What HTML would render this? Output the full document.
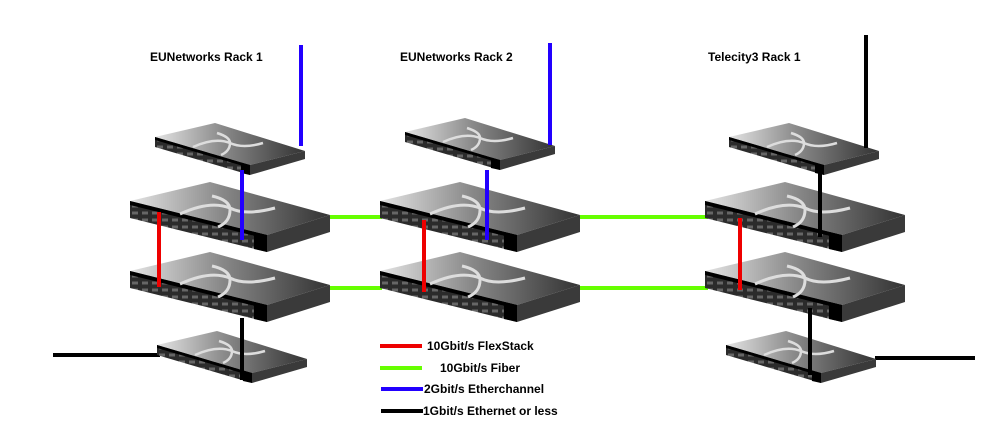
<!DOCTYPE html>
<html><head><style>body{margin:0;background:#fff}svg{display:block}text{font-family:"Liberation Sans",sans-serif;font-weight:bold;font-size:12px;fill:#000}</style></head><body>
<svg width="986" height="426" viewBox="0 0 986 426" xmlns="http://www.w3.org/2000/svg">
<defs>
<linearGradient id="tg" x1="0" y1="0" x2="1" y2="0"><stop offset="0" stop-color="#e4e4e4"/><stop offset="0.45" stop-color="#8a8a8a"/><stop offset="1" stop-color="#333"/></linearGradient>
<pattern id="ports" width="10" height="7" patternUnits="userSpaceOnUse"><rect width="10" height="7" fill="#2b2b2b"/><rect x="2" y="1.5" width="6" height="3" fill="#666"/></pattern>
<g id="L">
<polygon points="0,19 80,0 200,33 137,53" fill="url(#tg)"/>
<polygon points="0,19 137,53 137,70 0,36" fill="url(#ports)"/>
<polygon points="0,19 137,53 137,57 0,23" fill="#000"/>
<polygon points="137,53 200,33 200,50 137,70" fill="#3a3a3a"/>
<polygon points="124,50 137,53 137,70 124,67" fill="#000"/>
<path d="M50,32 Q80,18 100,26 Q115,34 145,26 M82,14 Q100,18 100,28 Q100,40 88,45" stroke="#ddd" stroke-width="3" fill="none"/>
</g>
<g id="S">
<polygon points="0,14 60,0 150,28 95,42" fill="url(#tg)"/>
<polygon points="0,14 95,42 95,52 0,24" fill="url(#ports)"/>
<polygon points="0,14 95,42 95,45 0,17" fill="#000"/>
<polygon points="95,42 150,28 150,36 95,52" fill="#3a3a3a"/>
<polygon points="86,40 95,42 95,52 86,50" fill="#000"/>
<path d="M38,24 Q60,14 75,20 Q88,26 108,20 M62,10 Q75,14 75,20 Q75,28 66,32" stroke="#ddd" stroke-width="2.5" fill="none"/>
</g>
</defs>
<text x="150" y="61">EUNetworks Rack 1</text>
<text x="400" y="61">EUNetworks Rack 2</text>
<text x="708" y="61">Telecity3 Rack 1</text>

<g stroke-width="4" fill="none">
<line x1="330" y1="217" x2="382" y2="217" stroke="#66ff00"/>
<line x1="330" y1="288" x2="382" y2="288" stroke="#66ff00"/>
<line x1="580" y1="217" x2="708" y2="217" stroke="#66ff00"/>
<line x1="580" y1="288" x2="708" y2="288" stroke="#66ff00"/>
<line x1="53" y1="355" x2="160" y2="355" stroke="#000"/>
<line x1="875" y1="358" x2="975" y2="358" stroke="#000"/>
</g>

<use href="#S" x="155" y="123"/>
<use href="#L" x="130" y="182"/>
<use href="#L" x="130" y="252"/>
<use href="#S" x="157" y="331"/>
<use href="#S" x="405" y="118"/>
<use href="#L" x="380" y="182"/>
<use href="#L" x="380" y="252"/>
<use href="#S" x="729" y="123"/>
<use href="#L" x="705" y="182"/>
<use href="#L" x="705" y="252"/>
<use href="#S" x="726" y="331"/>

<g stroke-width="4" fill="none">
<line x1="301" y1="45" x2="301" y2="146" stroke="#2200ff"/>
<line x1="242" y1="170" x2="242" y2="240" stroke="#2200ff"/>
<line x1="159" y1="212" x2="159" y2="287" stroke="#ee0000"/>
<line x1="242" y1="318" x2="242" y2="380" stroke="#000"/>
<line x1="550" y1="43" x2="550" y2="145" stroke="#2200ff"/>
<line x1="487" y1="170" x2="487" y2="240" stroke="#2200ff"/>
<line x1="424" y1="220" x2="424" y2="292" stroke="#ee0000"/>
<line x1="866" y1="35" x2="866" y2="148" stroke="#000"/>
<line x1="820" y1="168" x2="820" y2="237" stroke="#000"/>
<line x1="740" y1="218" x2="740" y2="290" stroke="#ee0000"/>
<line x1="810" y1="308" x2="810" y2="375" stroke="#000"/>
<line x1="380" y1="346" x2="422" y2="346" stroke="#ee0000"/>
<line x1="380" y1="368" x2="422" y2="368" stroke="#66ff00"/>
<line x1="381" y1="389" x2="423" y2="389" stroke="#2200ff"/>
<line x1="381" y1="411" x2="423" y2="411" stroke="#000"/>
</g>
<text x="427" y="350">10Gbit/s FlexStack</text>
<text x="440" y="372">10Gbit/s Fiber</text>
<text x="424" y="393">2Gbit/s Etherchannel</text>
<text x="423" y="415">1Gbit/s Ethernet or less</text>
</svg>
</body></html>
